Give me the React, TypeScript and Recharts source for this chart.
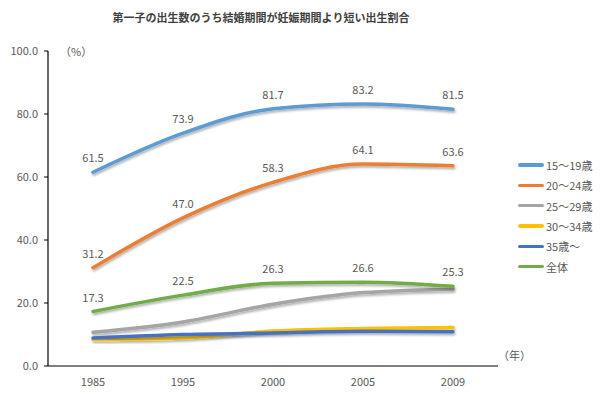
import React from 'react';
import { LineChart, Line, XAxis, YAxis, LabelList } from 'recharts';

const years = ['1985', '1995', '2000', '2005', '2009'];
const age15to19 = [61.5, 73.9, 81.7, 83.2, 81.5];
const age20to24 = [31.2, 47.0, 58.3, 64.1, 63.6];
const age25to29 = [10.7, 14.0, 19.6, 23.3, 24.4];
const age30to34 = [8.4, 8.9, 11.1, 11.9, 12.2];
const age35plus = [8.9, 10.0, 10.5, 11.0, 10.9];
const total = [17.3, 22.5, 26.3, 26.6, 25.3];
const yTicks = [0, 20, 40, 60, 80, 100];

const series = [
  { key: 's1', name: '15～19歳', values: age15to19, color: '#5B9BD5', label: true },
  { key: 's2', name: '20～24歳', values: age20to24, color: '#ED7D31', label: true },
  { key: 's3', name: '25～29歳', values: age25to29, color: '#A5A5A5', label: false },
  { key: 's4', name: '30～34歳', values: age30to34, color: '#FFC000', label: false },
  { key: 's5', name: '35歳～', values: age35plus, color: '#4472C4', label: false },
  { key: 's6', name: '全体', values: total, color: '#70AD47', label: true },
];

const data = years.map((y, i) => {
  const row: any = { year: y, idx: i + 0.5 };
  series.forEach((s) => (row[s.key] = s.values[i]));
  return row;
});

const FONT = '"Noto Sans CJK JP", "Noto Sans", sans-serif';
const GRAY = '#595959';

export default function App() {
  return (
    <div style={{ position: 'absolute', left: 0, top: 0, width: 600, height: 399, background: '#fff', fontFamily: FONT }}>
      <svg width={0} height={0} style={{ position: 'absolute' }}>
        <defs>
          <filter id="sh" x="-10%" y="-30%" width="120%" height="160%">
            <feDropShadow dx="1" dy="2" stdDeviation="1.2" floodColor="#000" floodOpacity="0.3" />
          </filter>
        </defs>
      </svg>
      <div style={{ position: 'absolute', left: 0, width: 522, top: 9, textAlign: 'center', fontSize: 11, fontWeight: 'bold', color: '#404040' }}>
        第一子の出生数のうち結婚期間が妊娠期間より短い出生割合
      </div>
      <div style={{ position: 'absolute', left: 60, top: 43, fontSize: 11, color: GRAY }}>（%）</div>
      <div style={{ position: 'absolute', left: 498, top: 347, fontSize: 11, color: GRAY }}>（年）</div>
      <div style={{ position: 'absolute', left: 518, top: 155 }}>
        {series.map((s) => (
          <div key={s.key} style={{ display: 'flex', alignItems: 'center', height: 20.3 }}>
            <div style={{ width: 26, height: 3.5, background: s.color, borderRadius: 2, marginRight: 2 }} />
            <span style={{ fontSize: 11, color: GRAY }}>{s.name}</span>
          </div>
        ))}
      </div>
      <LineChart width={600} height={399} data={data} margin={{ top: 51, right: 102, bottom: 0, left: 0 }} style={{ position: 'absolute', left: 0, top: 0 }}>
        <XAxis
          xAxisId="b"
          dataKey="idx"
          type="number"
          domain={[0, 5]}
          ticks={[1, 2, 3, 4, 5]}
          tick={false}
          mirror
          tickSize={5}
          axisLine={false}
          height={0}
          tickLine={{ stroke: '#000' }}
        />
        <XAxis
          dataKey="year"
          height={33}
          padding={{ left: 45, right: 45 }}
          tickLine={false}
          axisLine={{ stroke: '#000', strokeWidth: 1.2 }}
          tick={{ fontSize: 11, fill: GRAY, fontFamily: FONT }}
          tickMargin={6}
        />
        <YAxis
          width={48}
          domain={[0, 100]}
          ticks={yTicks}
          tickFormatter={(v: number) => v.toFixed(1)}
          tickSize={4}
          axisLine={{ stroke: '#000', strokeWidth: 1.2 }}
          tickLine={{ stroke: '#000' }}
          tick={{ fontSize: 11, fill: GRAY, fontFamily: FONT }}
          tickMargin={6}
        />
        {series.map((s) => (
          <Line
            key={s.key}
            dataKey={s.key}
            type="monotone"
            stroke={s.color}
            strokeWidth={3.5}
            dot={false}
            isAnimationActive={false}
            filter="url(#sh)"
            strokeLinecap="round"
          >
            {s.label && (
              <LabelList dataKey={s.key} position="top" offset={10} fontSize={11} fill={GRAY} fontFamily={FONT} formatter={(v: any) => Number(v).toFixed(1)} />
            )}
          </Line>
        ))}
      </LineChart>
    </div>
  );
}
